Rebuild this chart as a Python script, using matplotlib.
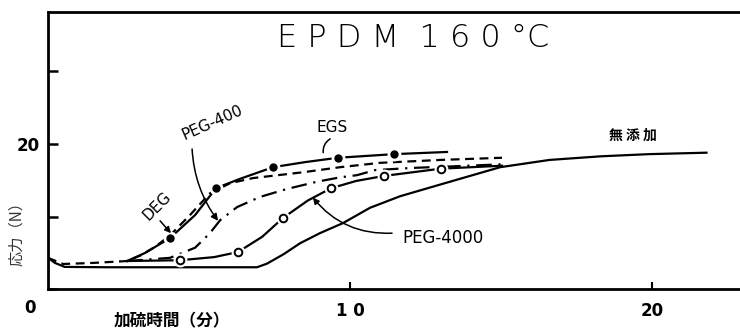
import numpy as np
import matplotlib.pyplot as plt

plt.rcParams['font.family'] = ['DejaVu Sans', 'Noto Sans CJK JP']

# curves: time (min) and stress (N)
none_t = [0.0, 0.23, 0.55, 2.0, 4.0, 6.0, 6.92, 7.25, 7.8, 8.34, 9.0, 9.77, 10.66, 11.66, 13.31, 14.97, 16.6, 18.3, 19.9, 21.8]
none_f = [4.3, 3.6, 3.05, 3.0, 3.0, 3.0, 3.0, 3.5, 4.8, 6.3, 7.7, 9.1, 11.2, 12.8, 14.8, 16.8, 17.8, 18.3, 18.6, 18.8]

deg_t = [0.0, 0.5, 1.5, 2.62, 3.05, 3.54, 4.04, 4.70, 5.36, 6.03, 6.79, 8.44, 9.67, 10.99, 12.98, 15.03]
deg_f = [4.3, 3.45, 3.6, 3.86, 4.6, 5.8, 7.4, 10.2, 13.2, 14.6, 15.3, 16.1, 16.8, 17.4, 17.8, 18.1]

egs_t = [2.62, 3.21, 4.04, 4.87, 5.56, 6.36, 7.45, 8.51, 9.60, 11.46, 13.21]
egs_f = [3.86, 4.97, 7.03, 10.2, 13.9, 15.2, 16.8, 17.5, 18.1, 18.6, 18.9]
egs_mt = [4.04, 5.56, 7.45, 9.60, 11.46]
egs_mf = [7.03, 13.9, 16.8, 18.1, 18.6]

p400_t = [2.62, 4.04, 4.87, 5.36, 5.70, 6.26, 7.02, 7.91, 8.91, 9.67, 10.23, 10.83, 12.05, 13.31, 15.03]
p400_f = [3.86, 4.3, 5.7, 7.7, 9.5, 11.3, 12.7, 13.8, 14.8, 15.4, 15.7, 16.4, 16.7, 16.9, 17.2]

p4000_t = [2.62, 4.37, 5.5, 6.29, 7.09, 7.78, 8.6, 9.37, 10.2, 11.13, 13.01, 15.03]
p4000_f = [3.86, 3.97, 4.4, 5.1, 7.2, 9.8, 12.2, 13.9, 14.9, 15.6, 16.6, 17.0]
p4000_mt = [4.37, 6.29, 7.78, 9.37, 11.13, 13.01]
p4000_mf = [3.97, 5.1, 9.8, 13.9, 15.6, 16.6]

fig = plt.figure(figsize=(7.4, 3.3), dpi=100)
ax = fig.add_axes([0.0649, 0.1242, 0.9351, 0.8394])
lw = 1.6

ax.plot(none_t, none_f, color='k', lw=lw)
ax.plot(deg_t, deg_f, color='k', lw=lw, linestyle=(0, (4, 2.5)))
ax.plot(egs_t, egs_f, color='k', lw=lw)
ax.plot(p400_t, p400_f, color='k', lw=lw, linestyle=(0, (7, 3, 1, 3)))
ax.plot(p4000_t, p4000_f, color='k', lw=lw)

# markers with a white halo so the lines look broken around them
ax.plot(egs_mt, egs_mf, 'o', color='white', ms=9, zorder=3)
ax.plot(egs_mt, egs_mf, 'o', color='k', ms=5, zorder=4)
ax.plot(p4000_mt, p4000_mf, 'o', color='white', ms=9, zorder=3)
ax.plot(p4000_mt, p4000_mf, 'o', mfc='white', mec='k', mew=1.4, ms=5.5, zorder=4)

ax.set_xlim(0, 22.91)
ax.set_ylim(0, 38.2)
for s in ['left', 'top', 'bottom']:
    ax.spines[s].set_linewidth(2)
ax.spines['right'].set_visible(False)

ax.set_xticks([10, 20])
ax.set_xticklabels(['1 0', '20'])
ax.set_yticks([0, 10, 20, 30])
ax.set_yticklabels(['', '', '20', ''])
ax.tick_params(axis='y', direction='in', length=7, width=1.8, pad=6, labelsize=12)
ax.tick_params(axis='x', direction='in', length=5, width=1.5, pad=9, labelsize=12)
for t in ax.get_xticklabels() + ax.get_yticklabels():
    t.set_fontweight('bold')
ax.text(-0.6, -2.6, '0', ha='center', va='center', fontsize=12, fontweight='bold', clip_on=False)

ax.text(12.09, 34.6, 'E P D M  1 6 0 °C', ha='center', va='center', fontsize=23,
        fontweight='light', family=['DejaVu Sans'])

ax.text(5.43, 23.0, 'PEG-400', rotation=24, ha='center', va='center', fontsize=11, fontweight='medium')
ax.annotate('', xy=(5.63, 9.4), xytext=(4.77, 19.3),
            arrowprops=dict(arrowstyle='-|>', color='k', lw=1.1, mutation_scale=10,
                            connectionstyle='arc3,rad=0.15', shrinkA=0, shrinkB=0))

ax.text(9.40, 22.3, 'EGS', ha='center', va='center', fontsize=11, fontweight='medium')
ax.annotate('', xy=(9.11, 18.8), xytext=(9.34, 20.7),
            arrowprops=dict(arrowstyle='-', color='k', lw=1.1,
                            connectionstyle='arc3,rad=0.3', shrinkA=0, shrinkB=0))

ax.text(3.61, 11.4, 'DEG', rotation=45, ha='center', va='center', fontsize=11, fontweight='medium')
ax.annotate('', xy=(4.07, 7.7), xytext=(3.71, 9.4),
            arrowprops=dict(arrowstyle='-|>', color='k', lw=1.1, mutation_scale=9,
                            shrinkA=0, shrinkB=0))

ax.text(13.08, 7.0, 'PEG-4000', ha='center', va='center', fontsize=12, fontweight='medium')
ax.annotate('', xy=(8.77, 12.6), xytext=(11.39, 7.7),
            arrowprops=dict(arrowstyle='-|>', color='k', lw=1.1, mutation_scale=9,
                            connectionstyle='arc3,rad=-0.25', shrinkA=0, shrinkB=0))

ax.text(19.37, 21.1, '無 添 加', ha='center', va='center', fontsize=10, fontweight='bold',
        family=['Noto Sans CJK JP'])

fig.text(0.023, 0.303, '応力（N）', rotation=90, ha='center', va='center', fontsize=11,
         color='#333333', family=['Noto Sans CJK JP'])
fig.text(0.232, 0.027, '加硫時間（分）', ha='center', va='center', fontsize=12,
         fontweight='bold', family=['Noto Sans CJK JP'])

fig.savefig('out.png', dpi=100)
